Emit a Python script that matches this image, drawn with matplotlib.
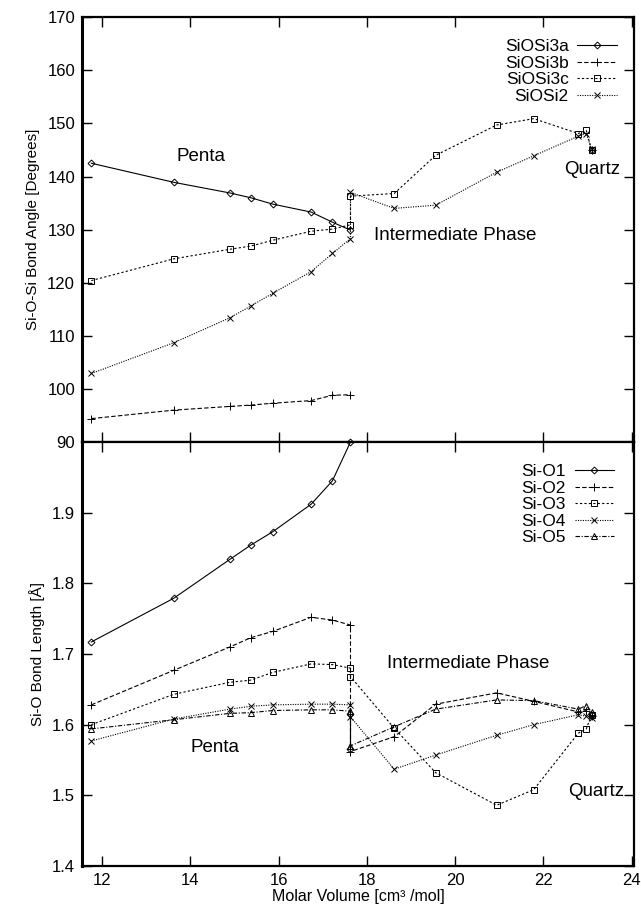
import numpy as np
import matplotlib
matplotlib.use("Agg")
import matplotlib.pyplot as plt

plt.rcParams['font.family'] = ['Liberation Sans', 'DejaVu Sans']

# molar volumes: pentacoordinated branch, then intermediate -> quartz branch
vol_penta = [11.76, 13.63, 14.90, 15.37, 15.87, 16.74, 17.22, 17.63]
vol_inter = [17.63, 18.62, 19.56, 20.94, 21.78, 22.79, 22.97, 23.09]
vol_quartz = [23.09]

# Si-O-Si bond angles [deg]
siosi3a_penta = [142.5, 138.9, 136.9, 136.0, 134.8, 133.3, 131.4, 129.9]
siosi3a_quartz = [145.0]
siosi3b_penta = [94.4, 96.0, 96.7, 96.95, 97.3, 97.8, 98.8, 98.9]
siosi3b_quartz = [145.0]
siosi3c_penta = [120.4, 124.5, 126.3, 126.9, 128.0, 129.7, 130.1, 130.9]
siosi3c_inter = [136.3, 136.8, 144.0, 149.7, 150.9, 148.1, 148.7, 145.0]
siosi2_penta = [102.9, 108.7, 113.4, 115.6, 118.0, 122.1, 125.5, 128.3]
siosi2_inter = [137.0, 134.0, 134.6, 140.8, 143.9, 147.6, 148.1, 145.2]

# Si-O bond lengths [A]
sio1_penta = [1.717, 1.779, 1.834, 1.854, 1.873, 1.912, 1.945, 2.0]
sio1_jump_x = [17.63, 17.63]
sio1_jump = [1.615, 1.566]
sio1_quartz = [1.613]
sio2_penta = [1.628, 1.677, 1.710, 1.723, 1.732, 1.752, 1.748, 1.741]
sio2_inter = [1.562, 1.583, 1.629, 1.645, 1.633, 1.618, 1.620, 1.612]
sio3_penta = [1.600, 1.643, 1.660, 1.663, 1.674, 1.686, 1.685, 1.680]
sio3_inter = [1.668, 1.595, 1.532, 1.486, 1.508, 1.588, 1.594, 1.614]
sio4_penta = [1.577, 1.608, 1.622, 1.626, 1.628, 1.629, 1.629, 1.628]
sio4_inter = [1.611, 1.537, 1.557, 1.585, 1.600, 1.614, 1.612, 1.610]
sio5_penta = [1.594, 1.607, 1.616, 1.617, 1.620, 1.621, 1.621, 1.619]
sio5_inter = [1.570, 1.597, 1.622, 1.635, 1.634, 1.622, 1.627, 1.618]

fig = plt.figure(figsize=(6.41, 9.07), dpi=100)
ax1 = fig.add_axes([0.128, 0.5127, 0.861, 0.4683])
ax2 = fig.add_axes([0.128, 0.0452, 0.861, 0.4675], sharex=ax1)

lw = 0.8
solid = '-'
dashed = (0, (4, 2))
dotted = (0, (2, 2))
fine = (0, (1, 1.2))
dashdot = (0, (4, 1.5, 1, 1.5))

def mk(ls, m, ms):
    return dict(color='black', lw=lw, ls=ls, marker=m, ms=ms, mfc='none', mec='black', mew=0.7)

st_a = mk(solid, 'D', 3.5)
st_b = mk(dashed, '+', 6)
st_c = mk(dotted, 's', 5)
st_2 = mk(fine, 'x', 5)

# top panel
ax1.plot(vol_penta, siosi3a_penta, label='SiOSi3a', **st_a)
ax1.plot(vol_quartz, siosi3a_quartz, **st_a)
ax1.plot(vol_penta, siosi3b_penta, label='SiOSi3b', **st_b)
ax1.plot(vol_quartz, siosi3b_quartz, **st_b)
ax1.plot(vol_penta + vol_inter, siosi3c_penta + siosi3c_inter, label='SiOSi3c', **st_c)
ax1.plot(vol_penta + vol_inter, siosi2_penta + siosi2_inter, label='SiOSi2', **st_2)

ax1.set_ylim(90, 170)
ax1.set_yticks(np.arange(90, 171, 10))
ax1.set_ylabel('Si-O-Si Bond Angle [Degrees]', fontsize=11, labelpad=5)
ax1.text(14.25, 143.8, 'Penta', fontsize=13.5, ha='center', va='center')
ax1.text(20.0, 128.9, 'Intermediate Phase', fontsize=13.5, ha='center', va='center')
ax1.text(23.1, 141.3, 'Quartz', fontsize=13.5, ha='center', va='center')
leg1 = ax1.legend(loc='upper right', bbox_to_anchor=(0.998, 0.985), frameon=False,
                  markerfirst=False, fontsize=12.5, handlelength=2.3,
                  labelspacing=0.08, handletextpad=0.5)

# bottom panel
st_o1 = mk(solid, 'D', 3.5)
st_o2 = mk(dashed, '+', 6)
st_o3 = mk(dotted, 's', 5)
st_o4 = mk(fine, 'x', 5)
st_o5 = mk(dashdot, '^', 4)

ax2.plot(vol_penta, sio1_penta, label='Si-O1', clip_on=False, **st_o1)
ax2.plot(sio1_jump_x, sio1_jump, **st_o1)
ax2.plot(vol_quartz, sio1_quartz, **st_o1)
ax2.plot(vol_penta + vol_inter, sio2_penta + sio2_inter, label='Si-O2', **st_o2)
ax2.plot(vol_penta + vol_inter, sio3_penta + sio3_inter, label='Si-O3', **st_o3)
ax2.plot(vol_penta + vol_inter, sio4_penta + sio4_inter, label='Si-O4', **st_o4)
ax2.plot(vol_penta + vol_inter, sio5_penta + sio5_inter, label='Si-O5', **st_o5)

ax2.set_ylim(1.4, 2.0)
ax2.set_yticks(np.arange(1.4, 1.95, 0.1))
ax2.set_yticklabels(['1.4', '1.5', '1.6', '1.7', '1.8', '1.9'])
ax2.set_ylabel('Si-O Bond Length [Å]', fontsize=11, labelpad=5)
ax2.set_xlim(11.55, 24.05)
ax2.set_xticks(np.arange(12, 25, 2))
ax2.set_xlabel('Molar Volume [cm³ /mol]', fontsize=11.5, labelpad=1)
ax2.text(14.55, 1.568, 'Penta', fontsize=13.5, ha='center', va='center')
ax2.text(20.3, 1.686, 'Intermediate Phase', fontsize=13.5, ha='center', va='center')
ax2.text(23.2, 1.505, 'Quartz', fontsize=13.5, ha='center', va='center')
leg2 = ax2.legend(loc='upper right', bbox_to_anchor=(0.993, 0.985), frameon=False,
                  markerfirst=False, fontsize=12.5, handlelength=2.3,
                  labelspacing=0.08, handletextpad=0.5)

for ax in (ax1, ax2):
    ax.tick_params(direction='in', top=True, right=True, length=7, width=1,
                   labelsize=12, pad=5)
    for s in ax.spines.values():
        s.set_linewidth(1.6)
    ax.spines['left'].set_linewidth(2.2)
plt.setp(ax1.get_xticklabels(), visible=False)

fig.savefig('out.png', dpi=100)
